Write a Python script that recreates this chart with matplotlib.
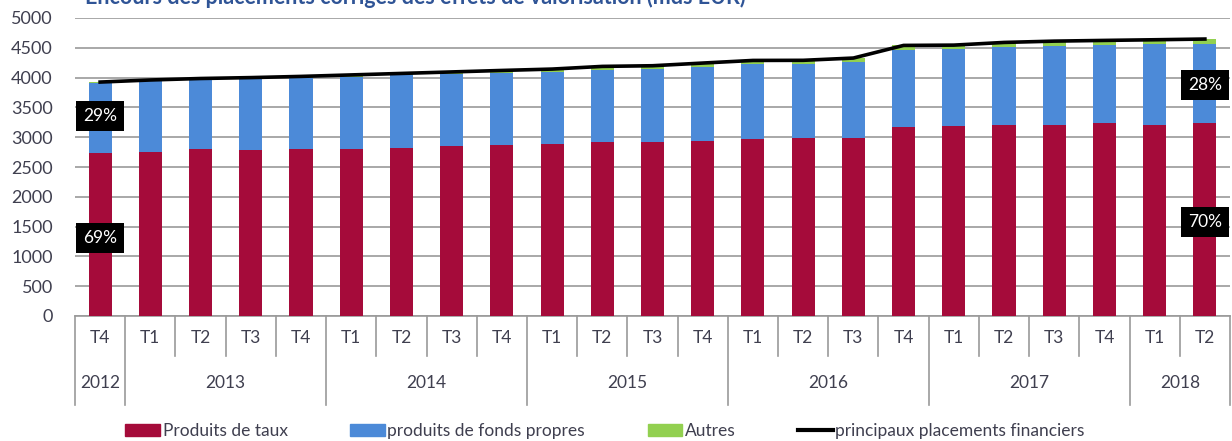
import numpy as np
import matplotlib
matplotlib.use('Agg')
import matplotlib.pyplot as plt
from matplotlib.patches import Patch
from matplotlib.lines import Line2D

plt.rcParams['font.family'] = ['Lato', 'DejaVu Sans']

# quarters and years
quarters = ['T4', 'T1', 'T2', 'T3', 'T4', 'T1', 'T2', 'T3', 'T4', 'T1', 'T2', 'T3',
            'T4', 'T1', 'T2', 'T3', 'T4', 'T1', 'T2', 'T3', 'T4', 'T1', 'T2']
years = ['2012', '2013', '2014', '2015', '2016', '2017', '2018']
year_counts = [1, 4, 4, 4, 4, 4, 2]

# values (mds EUR)
taux = [2730, 2745, 2800, 2790, 2800, 2805, 2825, 2845, 2865, 2890, 2920, 2920,
        2940, 2965, 2990, 2980, 3175, 3180, 3200, 3205, 3235, 3210, 3245]
fonds = [1185, 1200, 1165, 1185, 1195, 1210, 1215, 1215, 1215, 1200, 1215, 1225,
         1245, 1265, 1240, 1280, 1285, 1295, 1320, 1330, 1315, 1350, 1325]
autres = [10, 15, 20, 25, 25, 30, 30, 35, 40, 55, 55, 55,
          60, 60, 60, 70, 80, 70, 70, 75, 75, 75, 75]
total = [3925, 3960, 3985, 4000, 4020, 4045, 4070, 4095, 4120, 4143, 4188, 4199,
         4244, 4288, 4290, 4328, 4540, 4545, 4590, 4612, 4624, 4635, 4647]
pct_labels = [('29%', 0, 3360), ('69%', 0, 1310), ('28%', 22, 3870), ('70%', 22, 1580)]

red = '#A50B3A'
blue = '#4C8AD8'
green = '#92D050'
grey = '#9A9A9A'
txt = '#3F3F4F'

fig = plt.figure(figsize=(12.32, 4.41), dpi=100)
ax = fig.add_axes([75/1232, 1-316/441, 1155/1232, 298/441])

x = np.arange(len(quarters))
w = 0.46
ax.bar(x, taux, w, color=red, zorder=3)
ax.bar(x, fonds, w, bottom=taux, color=blue, zorder=3)
ax.bar(x, autres, w, bottom=np.array(taux)+np.array(fonds), color=green, zorder=3)
ax.plot(x, total, color='black', lw=2.6, zorder=4)

ax.set_xlim(-0.5, len(quarters)-0.5)
ax.set_ylim(0, 5000)
ax.set_yticks(np.arange(0, 5001, 500))
ax.yaxis.grid(True, color=grey, lw=1.2, zorder=0)
ax.tick_params(axis='y', length=0, pad=16, labelsize=13, labelcolor=txt)
ax.set_xticks([])
for s in ['top', 'right', 'left']:
    ax.spines[s].set_visible(False)
ax.spines['bottom'].set_color(grey)
ax.spines['bottom'].set_linewidth(1.2)

for lab, i, y in pct_labels:
    ax.text(i, y, lab, color='white', fontsize=12.5, ha='center', va='center', zorder=6,
            bbox=dict(boxstyle='square,pad=0.4', fc='black', ec='none'))

# category axis: quarters, years and separators
trans = ax.get_xaxis_transform()
for i, q in enumerate(quarters):
    ax.text(i, -0.075, q, transform=trans, ha='center', va='center', fontsize=12.5,
            color=txt, clip_on=False)
bounds = np.cumsum([0] + year_counts) - 0.5
for i in range(len(quarters) + 1):
    xs = i - 0.5
    low = -0.30 if xs in bounds else -0.135
    ax.plot([xs, xs], [0, low], transform=trans, color=grey, lw=1.2, clip_on=False)
for k, yr in enumerate(years):
    c = (bounds[k] + bounds[k+1]) / 2
    ax.text(c, -0.225, yr, transform=trans, ha='center', va='center', fontsize=12.5,
            color=txt, clip_on=False)

fig.text(85/1232, 1-4/441, 'Encours des placements corrigés des effets de valorisation (mds EUR)',
         fontsize=15.5, fontweight='bold', color='#2F5496', va='baseline', ha='left')

handles = [Patch(color=red), Patch(color=blue), Patch(color=green),
           Line2D([], [], color='black', lw=3)]
names = ['Produits de taux', 'produits de fonds propres', 'Autres',
         'principaux placements financiers']
fig.legend(handles, names, loc='center', bbox_to_anchor=(605/1232, 10/441), ncol=4,
           frameon=False, fontsize=12.5, handlelength=2.0, handleheight=0.75,
           handletextpad=0.15, columnspacing=3.6, labelcolor=txt)

fig.savefig('out.png', dpi=100)
